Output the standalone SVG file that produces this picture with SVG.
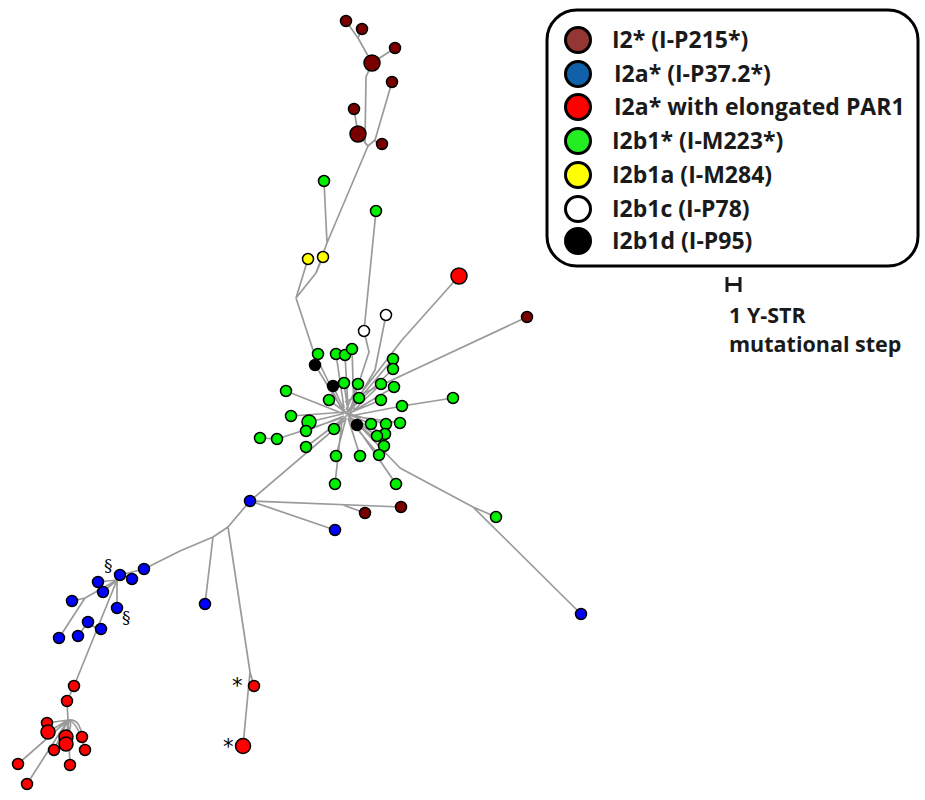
<svg xmlns="http://www.w3.org/2000/svg" width="925" height="800" viewBox="0 0 925 800">
<style>
.e{stroke:#9a9a9a;stroke-width:1.7;fill:none;stroke-linejoin:round}
.n{stroke:#000;stroke-width:1.5}
.br{fill:#7a0000}.bl{fill:#0000ff}.rd{fill:#ff0000}.gr{fill:#00f000}.ye{fill:#ffff00}.wh{fill:#fff}.bk{fill:#000}
.lg{stroke:#000;stroke-width:3}
.t{font-family:"Open Sans","Liberation Sans",sans-serif;font-weight:bold;font-size:23px;fill:#1a1a1a}
.s{font-family:"Open Sans","Liberation Sans",sans-serif;font-weight:bold;font-size:21.5px;fill:#1a1a1a}
.m{font-family:"DejaVu Serif","Liberation Serif",serif;font-size:17px;fill:#000}
.a{font-family:"DejaVu Sans","Liberation Sans",sans-serif;font-size:21px;fill:#000}
</style>
<rect width="925" height="800" fill="#fff"/>
<g id="connectors">
<path class="e" d="M346,21 L358,38 L372,63 M362,29 L358,38 M395,48 L372,63 M372,63 L366,77 L365,143 L368,146 M354,109 L358,134 L368,146 M392,82 L375,140 L368,146 M382,144 L375,141"/>
<path class="e" d="M368,146 L327,243 L316,273 L296,298 M324,181 L327,243 M323,257 L316,273 M308,259 L296,298 M296,298 L313,350 L342,410"/>
<path class="e" d="M376,211 L364,331 M364,331 L369,352 L350,410 M386,315 L375,370 L350,412 M459,276 L402,340 L352,405 M527,317 L345,402"/>
<path class="e" d="M336,354 L344,408 M345,355 L348,408 M352,349 L354,410 M315,365 L344,412 M333,386 L346,414 M344,383 L348,412 M358,384 L346,410 M381,384 L350,414 M394,387 L352,412 M393,359 L350,410 M393,369 L348,412 M286,391 L344,414 M329,400 L345,412 M359,398 L345,414 M381,400 L347,414 M453,398 L402,406 L350,416 M291,416 L346,412 M309,422 L342,414 M306,431 L344,416 M334,429 L348,414 M357,425 L346,412 M371,424 L348,414 M386,424 L350,414 M400,423 L352,416 M377,436 L348,416 M385,434 L350,418 M384,446 L350,418 M379,455 L348,418 M260,438 L277,439 L342,418 M306,447 L344,418 M336,456 L346,418 M360,456 L348,418 M335,484 L342,420 M396,484 L352,420"/>
<path class="e" d="M352,418 L400,468 L473,507 L581,614 M473,507 L496,517 M345,420 L250,501"/>
<path class="e" d="M250,501 L401,507 M343,505 L365,513 M250,501 L335,530 M250,501 L228,527 L213,537 L180,551 L144,569 L120,575 M213,537 L205,604 M228,527 L250,672 L243,746 M250,672 L254,686"/>
<path class="e" d="M132,579 L126,576 M120,575 L117,580 M117,580 L98,582 M117,580 L103,592 M117,580 L85,598 L72,601 M85,598 L59,638 M117,580 L117,608 M117,580 L74,686 M88,622 L78,636 M88,622 L96,628"/>
<path class="e" d="M74,686 L67,701 L68,720 M68,720 L18,764 M68,720 L27,784 M68,720 L70,765 M68,720 L48,732 M68,720 L47,723 M68,720 L66,744 M68,720 L54,750 M68,720 Q80,718 82,737 M68,720 Q78,722 85,750 M68,720 Q74,724 66,737"/>
</g>
<g id="nodes">
<g id="b1"><circle class="n br" cx="346" cy="21" r="5.5"/></g>
<g id="b2"><circle class="n br" cx="362" cy="29" r="5.5"/></g>
<g id="b3"><circle class="n br" cx="395" cy="48" r="5.5"/></g>
<g id="b4"><circle class="n br" cx="372" cy="63" r="8"/></g>
<g id="b5"><circle class="n br" cx="392" cy="82" r="5.5"/></g>
<g id="b6"><circle class="n br" cx="354" cy="109" r="5.5"/></g>
<g id="b7"><circle class="n br" cx="358" cy="134" r="8"/></g>
<g id="b8"><circle class="n br" cx="382" cy="144" r="5.5"/></g>
<g id="b9"><circle class="n br" cx="527" cy="317" r="5.5"/></g>
<g id="b10"><circle class="n br" cx="365" cy="513" r="5.5"/></g>
<g id="b11"><circle class="n br" cx="401" cy="507" r="5.5"/></g>
<g id="y1"><circle class="n ye" cx="308" cy="259" r="5.5"/></g>
<g id="y2"><circle class="n ye" cx="323" cy="257" r="5.5"/></g>
<g id="w1"><circle class="n wh" cx="386" cy="315" r="5.5"/></g>
<g id="w2"><circle class="n wh" cx="364" cy="331" r="5.5"/></g>
<g id="r1"><circle class="n rd" cx="459" cy="276" r="8"/></g>
<g id="g1"><circle class="n gr" cx="324" cy="181" r="5.5"/></g>
<g id="g2"><circle class="n gr" cx="376" cy="211" r="5.5"/></g>
<g id="g3"><circle class="n gr" cx="318" cy="354" r="5.5"/></g>
<g id="g4"><circle class="n gr" cx="336" cy="354" r="5.5"/></g>
<g id="g5"><circle class="n gr" cx="345" cy="355" r="5.5"/></g>
<g id="g6"><circle class="n gr" cx="352" cy="349" r="5.5"/></g>
<g id="k1"><circle class="n bk" cx="315" cy="365" r="5.5"/></g>
<g id="k2"><circle class="n bk" cx="333" cy="386" r="5.5"/></g>
<g id="g7"><circle class="n gr" cx="344" cy="383" r="5.5"/></g>
<g id="g8"><circle class="n gr" cx="358" cy="384" r="5.5"/></g>
<g id="g9"><circle class="n gr" cx="381" cy="384" r="5.5"/></g>
<g id="g10"><circle class="n gr" cx="394" cy="387" r="5.5"/></g>
<g id="g11"><circle class="n gr" cx="393" cy="359" r="5.5"/></g>
<g id="g12"><circle class="n gr" cx="393" cy="369" r="5.5"/></g>
<g id="g13"><circle class="n gr" cx="286" cy="391" r="5.5"/></g>
<g id="g14"><circle class="n gr" cx="329" cy="400" r="5.5"/></g>
<g id="g15"><circle class="n gr" cx="359" cy="398" r="5.5"/></g>
<g id="g16"><circle class="n gr" cx="381" cy="400" r="5.5"/></g>
<g id="g17"><circle class="n gr" cx="402" cy="406" r="5.5"/></g>
<g id="g18"><circle class="n gr" cx="453" cy="398" r="5.5"/></g>
<g id="g19"><circle class="n gr" cx="291" cy="416" r="5.5"/></g>
<g id="g20"><circle class="n gr" cx="309" cy="422" r="7"/></g>
<g id="g21"><circle class="n gr" cx="306" cy="431" r="5.5"/></g>
<g id="g22"><circle class="n gr" cx="334" cy="429" r="5.5"/></g>
<g id="k3"><circle class="n bk" cx="357" cy="425" r="5.5"/></g>
<g id="g23"><circle class="n gr" cx="371" cy="424" r="5.5"/></g>
<g id="g24"><circle class="n gr" cx="386" cy="424" r="5.5"/></g>
<g id="g25"><circle class="n gr" cx="400" cy="423" r="5.5"/></g>
<g id="g26"><circle class="n gr" cx="385" cy="434" r="5.5"/></g>
<g id="g27"><circle class="n gr" cx="377" cy="436" r="5.5"/></g>
<g id="g28"><circle class="n gr" cx="384" cy="446" r="5.5"/></g>
<g id="g29"><circle class="n gr" cx="379" cy="455" r="5.5"/></g>
<g id="g30"><circle class="n gr" cx="260" cy="438" r="5.5"/></g>
<g id="g31"><circle class="n gr" cx="277" cy="439" r="5.5"/></g>
<g id="g32"><circle class="n gr" cx="306" cy="447" r="5.5"/></g>
<g id="g33"><circle class="n gr" cx="336" cy="456" r="5.5"/></g>
<g id="g34"><circle class="n gr" cx="360" cy="456" r="5.5"/></g>
<g id="g35"><circle class="n gr" cx="335" cy="484" r="5.5"/></g>
<g id="g36"><circle class="n gr" cx="396" cy="484" r="5.5"/></g>
<g id="g37"><circle class="n gr" cx="496" cy="517" r="5.5"/></g>
<g id="u1"><circle class="n bl" cx="250" cy="501" r="5.5"/></g>
<g id="u2"><circle class="n bl" cx="335" cy="530" r="5.5"/></g>
<g id="u3"><circle class="n bl" cx="205" cy="604" r="5.5"/></g>
<g id="u4"><circle class="n bl" cx="581" cy="614" r="5.5"/></g>
<g id="u5"><circle class="n bl" cx="144" cy="569" r="5.5"/></g>
<g id="u6"><circle class="n bl" cx="132" cy="579" r="5.5"/></g>
<g id="u7"><circle class="n bl" cx="120" cy="575" r="5.5"/></g>
<g id="u8"><circle class="n bl" cx="98" cy="582" r="5.5"/></g>
<g id="u9"><circle class="n bl" cx="103" cy="592" r="5.5"/></g>
<g id="u10"><circle class="n bl" cx="72" cy="601" r="5.5"/></g>
<g id="u11"><circle class="n bl" cx="117" cy="608" r="5.5"/></g>
<g id="u12"><circle class="n bl" cx="88" cy="622" r="5.5"/></g>
<g id="u13"><circle class="n bl" cx="101" cy="629" r="5.5"/></g>
<g id="u14"><circle class="n bl" cx="78" cy="636" r="5.5"/></g>
<g id="u15"><circle class="n bl" cx="59" cy="638" r="5.5"/></g>
<g id="r2"><circle class="n rd" cx="254" cy="686" r="5.5"/></g>
<g id="r3"><circle class="n rd" cx="243" cy="746" r="7.5"/></g>
<g id="r4"><circle class="n rd" cx="74" cy="686" r="5.5"/></g>
<g id="r5"><circle class="n rd" cx="67" cy="701" r="5.5"/></g>
<g id="r6"><circle class="n rd" cx="47" cy="723" r="5.5"/></g>
<g id="r7"><circle class="n rd" cx="48" cy="732" r="7"/></g>
<g id="r8"><circle class="n rd" cx="66" cy="737" r="7"/></g>
<g id="r9"><circle class="n rd" cx="66" cy="744" r="7"/></g>
<g id="r10"><circle class="n rd" cx="82" cy="737" r="5.5"/></g>
<g id="r11"><circle class="n rd" cx="54" cy="750" r="5.5"/></g>
<g id="r12"><circle class="n rd" cx="85" cy="750" r="5.5"/></g>
<g id="r13"><circle class="n rd" cx="70" cy="765" r="5.5"/></g>
<g id="r14"><circle class="n rd" cx="18" cy="764" r="5.5"/></g>
<g id="r15"><circle class="n rd" cx="27" cy="784" r="5.5"/></g>
</g>
<g id="marks">
<text class="m" x="104" y="571">§</text>
<text class="m" x="122" y="623">§</text>
<text class="a" x="232" y="693">*</text>
<text class="a" x="223" y="754">*</text>
</g>
<g id="legend">
<rect x="547" y="10" width="371" height="256" rx="30" ry="30" fill="#fff" stroke="#000" stroke-width="3"/>
<circle class="lg" cx="578" cy="40" r="12.5" fill="#943634"/>
<circle class="lg" cx="578" cy="74" r="12.5" fill="#1060aa"/>
<circle class="lg" cx="578" cy="107" r="12.5" fill="#ff0000"/>
<circle class="lg" cx="578" cy="141" r="12.5" fill="#22ee22"/>
<circle class="lg" cx="578" cy="175" r="12.5" fill="#ffff00"/>
<circle class="lg" cx="578" cy="209" r="12.5" fill="#fff"/>
<circle class="lg" cx="578" cy="241" r="12.5" fill="#000"/>
<text class="t" x="612" y="48">I2* (I-P215*)</text>
<text class="t" x="614" y="82">I2a* (I-P37.2*)</text>
<text class="t" x="614" y="115">I2a* with elongated PAR1</text>
<text class="t" x="612" y="149">I2b1* (I-M223*)</text>
<text class="t" x="612" y="183">I2b1a (I-M284)</text>
<text class="t" x="612" y="217">I2b1c (I-P78)</text>
<text class="t" x="612" y="249">I2b1d (I-P95)</text>
</g>
<g id="scale">
<path d="M727,277 V292 M740,277 V292 M727,284.5 H740" stroke="#1a1a1a" stroke-width="3" fill="none"/>
<text class="s" x="729" y="323">1 Y-STR</text>
<text class="s" x="729" y="352">mutational step</text>
</g>
</svg>
